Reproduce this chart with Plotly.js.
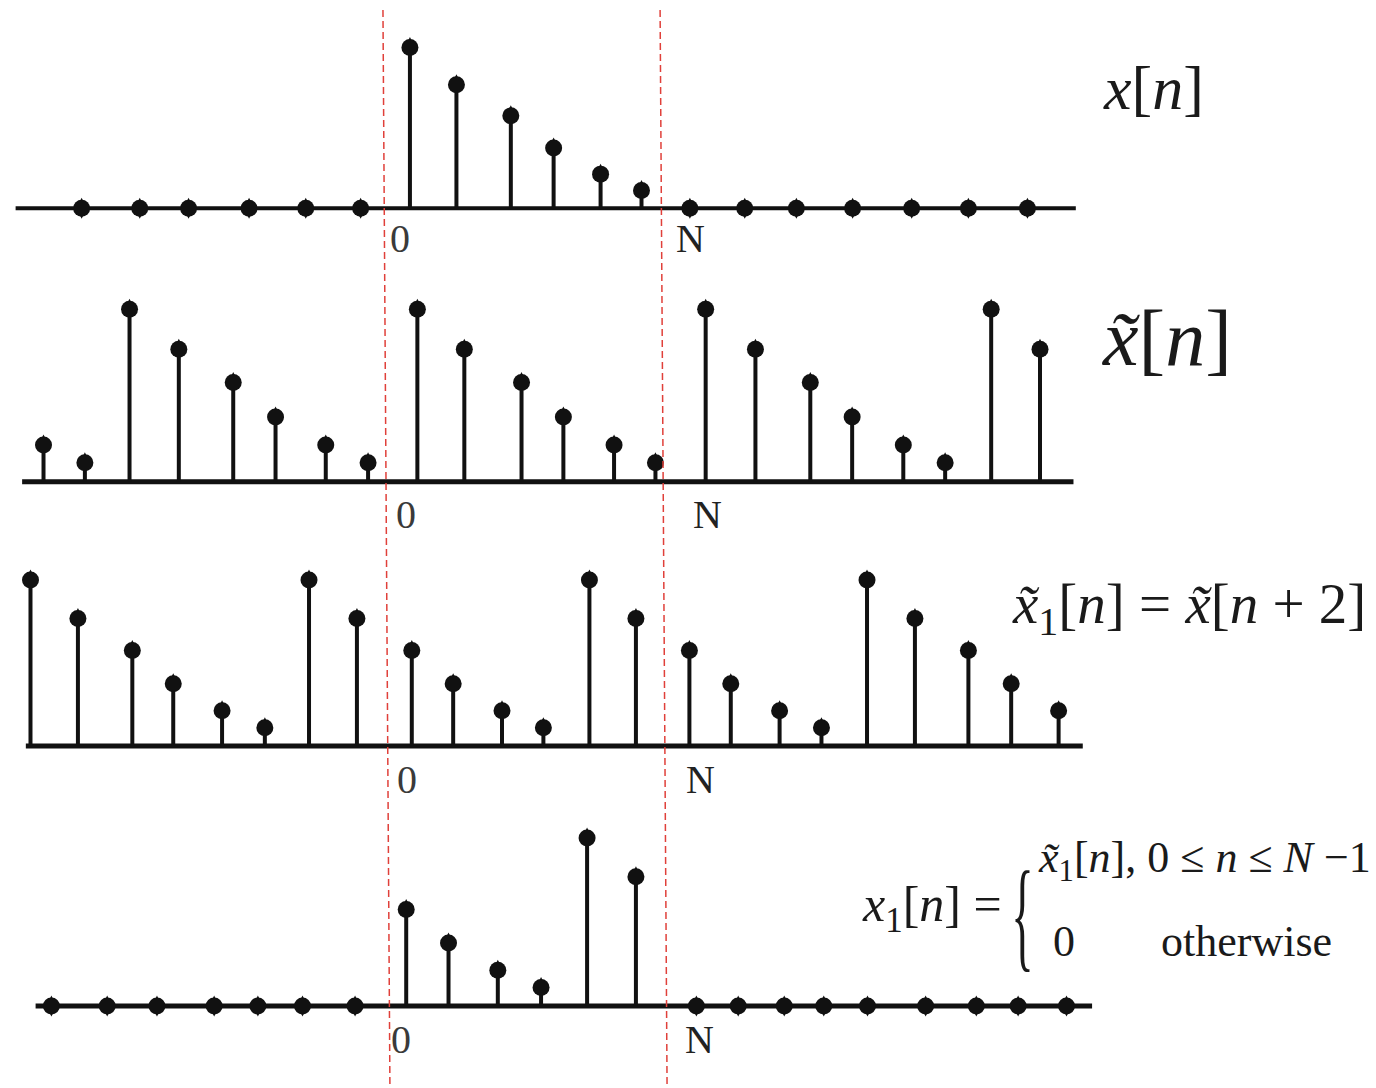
<!DOCTYPE html>
<html>
<head>
<meta charset="utf-8">
<script src="https://cdn.plot.ly/plotly-3.0.1.min.js"></script>
<style>
  html, body { margin: 0; padding: 0; background: #ffffff; }
  #chart { width: 1376px; height: 1088px; }
</style>
</head>
<body>
<div id="chart"></div>
<script>
// One period of x[n], n = 0 .. N-1 (N = 6)
const xPeriod = [8, 6.15, 4.6, 3.0, 1.7, 0.88];

// Row 1: x[n] — finite-length sequence, zero outside 0..N-1
const p1StemPos = [0.02, 1.02, 2.19, 3.11, 4.12, 5.0];
const p1StemVal = [8, 6.15, 4.6, 3.0, 1.7, 0.88];
const p1ZeroPos = [-7.04, -5.79, -4.74, -3.44, -2.22, -1.04, 6.04, 7.22, 8.33, 9.54, 10.81, 12.03, 13.30];
const p1Axis = [-8.46, 14.34];

// Row 2: periodic extension x~[n]
const p2StemPos = [-7.86, -6.97, -6.01, -4.95, -3.78, -2.87, -1.79, -0.88, 0.18, 1.19, 2.42,
                   3.32, 4.41, 5.30, 6.38, 7.45, 8.63, 9.53, 10.63, 11.53, 12.52, 13.57];
const p2StemVal = [1.7, 0.88, 8, 6.15, 4.6, 3.0, 1.7, 0.88, 8, 6.15, 4.6,
                   3.0, 1.7, 0.88, 8, 6.15, 4.6, 3.0, 1.7, 0.88, 8, 6.15];
const p2ZeroPos = [];
const p2Axis = [-8.32, 14.29];

// Row 3: shifted periodic sequence x~1[n] = x~[n+2]
const p3StemPos = [-8.14, -7.12, -5.95, -5.07, -4.02, -3.10, -2.15, -1.12, 0.06, 0.95, 2.00, 2.89,
                   3.88, 4.88, 6.03, 6.92, 7.97, 8.87, 9.85, 10.88, 12.03, 12.95, 13.97];
const p3StemVal = [8, 6.15, 4.6, 3.0, 1.7, 0.88, 8, 6.15, 4.6, 3.0, 1.7, 0.88,
                   8, 6.15, 4.6, 3.0, 1.7, 0.88, 8, 6.15, 4.6, 3.0, 1.7];
const p3ZeroPos = [];
const p3Axis = [-8.24, 14.49];

// Row 4: x1[n] — one period of x~1[n], zero elsewhere
const p4StemPos = [-0.06, 0.85, 1.91, 2.84, 3.83, 4.88];
const p4StemVal = [4.6, 3.0, 1.7, 0.88, 8, 6.15];
const p4ZeroPos = [-7.69, -6.49, -5.42, -4.19, -3.25, -2.29, -1.16,
                   6.18, 7.08, 8.07, 8.92, 9.86, 11.11, 12.20, 13.10, 14.14];
const p4Axis = [-8.03, 14.69];

// Index labels under each axis and the period boundaries (n = -1/2 and n = N - 1/2)
const tickN = [0, 6];
const tickText = ['0', 'N'];
const boundaryTop = [-0.56, 5.40];
const boundaryBottom = [-0.41, 5.55];

// ---------------------------------------------------------------------------
const W = 1376, H = 1088;
const ink = '#111111';
const serif = 'Liberation Serif, Times New Roman, serif';

// baseline pixel row and pixels-per-unit of each row
const rows = [
  { stemPos: p1StemPos, stemVal: p1StemVal, zeroPos: p1ZeroPos, axis: p1Axis, base: 208.3, scale: 20.1, axisW: 4,  tickShift: [-9, 2] },
  { stemPos: p2StemPos, stemVal: p2StemVal, zeroPos: p2ZeroPos, axis: p2Axis, base: 481.7, scale: 21.55, axisW: 5, tickShift: [-3, 19] },
  { stemPos: p3StemPos, stemVal: p3StemVal, zeroPos: p3ZeroPos, axis: p3Axis, base: 746.0, scale: 20.75, axisW: 5, tickShift: [-2, 12] },
  { stemPos: p4StemPos, stemVal: p4StemVal, zeroPos: p4ZeroPos, axis: p4Axis, base: 1006.0, scale: 21.0, axisW: 5, tickShift: [-8, 11] }
];

const traces = [];
const annotations = [];
const layout = {
  width: W, height: H,
  margin: { l: 0, r: 0, t: 0, b: 0, pad: 0 },
  paper_bgcolor: '#ffffff', plot_bgcolor: '#ffffff',
  showlegend: false,
  xaxis: { range: [-409 / 46.5, (W - 409) / 46.5], visible: false, fixedrange: true },
  annotations: annotations,
  shapes: []
};

rows.forEach((r, i) => {
  const yId = i === 0 ? 'y' : 'y' + (i + 1);
  const yKey = i === 0 ? 'yaxis' : 'yaxis' + (i + 1);
  layout[yKey] = {
    range: [-(H - r.base) / r.scale, r.base / r.scale],
    visible: false, fixedrange: true,
    domain: [0, 1]
  };
  if (i > 0) layout[yKey].overlaying = 'y';

  // horizontal time axis
  traces.push({
    type: 'scatter', mode: 'lines', xaxis: 'x', yaxis: yId,
    x: r.axis, y: [0, 0],
    line: { color: ink, width: r.axisW }, hoverinfo: 'skip', cliponaxis: false
  });

  // stems
  const sx = [], sy = [];
  r.stemPos.forEach((p, k) => { sx.push(p, p, null); sy.push(0, r.stemVal[k], null); });
  traces.push({
    type: 'scatter', mode: 'lines', xaxis: 'x', yaxis: yId,
    x: sx, y: sy, line: { color: ink, width: 4 }, hoverinfo: 'skip', cliponaxis: false
  });

  // sample heads (stem tops and zero-valued samples): round blob, slightly taller than wide
  const mx = r.stemPos.concat(r.zeroPos);
  const my = r.stemVal.concat(r.zeroPos.map(() => 0));
  traces.push({
    type: 'scatter', mode: 'markers', xaxis: 'x', yaxis: yId,
    x: mx, y: my,
    marker: { symbol: 'diamond-tall', size: 15, color: ink, line: { width: 0 } },
    hoverinfo: 'skip', cliponaxis: false
  });
  traces.push({
    type: 'scatter', mode: 'markers', xaxis: 'x', yaxis: yId,
    x: mx, y: my,
    marker: { symbol: 'circle', size: 17, color: ink, line: { width: 0 } },
    hoverinfo: 'skip', cliponaxis: false
  });

  // 0 and N index labels
  tickN.forEach((n, k) => {
    annotations.push({
      xref: 'x', yref: yId, x: n, y: 0,
      text: tickText[k], showarrow: false,
      xanchor: 'center', yanchor: 'middle',
      xshift: r.tickShift[k], yshift: -(i === 0 ? 30 : 33),
      font: { family: serif, size: 40, color: k === 0 ? '#3a3a3a' : '#222222' }
    });
  });
});

// period boundaries, red dashed
boundaryTop.forEach((xt, k) => {
  layout.shapes.push({
    type: 'line', xref: 'x', yref: 'paper',
    x0: xt, y0: 1 - 10 / H, x1: boundaryBottom[k], y1: 0,
    line: { color: '#e0403a', width: 1.5, dash: '7px,4px' },
    layer: 'above'
  });
});

// right-hand formulas
function label(text, px, py, size, anchor) {
  annotations.push({
    xref: 'paper', yref: 'paper', x: px / W, y: 1 - py / H,
    text: text, showarrow: false,
    xanchor: anchor || 'center', yanchor: 'middle',
    font: { family: serif, size: size, color: '#1a1a1a' }
  });
}
const xt = '<i>x\u0303</i>';
label('<i>x</i>[<i>n</i>]', 1153, 88, 62);
label(xt + '[<i>n</i>]', 1167, 338, 80);
label(xt + '<sub>1</sub>[<i>n</i>] = ' + xt + '[<i>n</i> + 2]', 1189, 608, 57);
label('<i>x</i><sub>1</sub>[<i>n</i>] =', 932, 908, 50);
label('{', 1022, 914, 52);
label(xt + '<sub>1</sub>[<i>n</i>], 0 \u2264 <i>n</i> \u2264 <i>N</i> \u22121', 1036, 860, 44, 'left');
label('0', 1064, 941, 44);
label('otherwise', 1246, 941, 44);

Plotly.newPlot('chart', traces, layout, { staticPlot: true, displayModeBar: false }).then(gd => {
  // the case brace of the piecewise definition is a tall, narrow glyph
  gd.querySelectorAll('.annotation-text').forEach(t => {
    if (t.textContent === '{') {
      t.style.transformBox = 'fill-box';
      t.style.transformOrigin = 'center';
      t.style.transform = 'scale(0.9, 2.35)';
    }
  });
});
</script>
</body>
</html>
